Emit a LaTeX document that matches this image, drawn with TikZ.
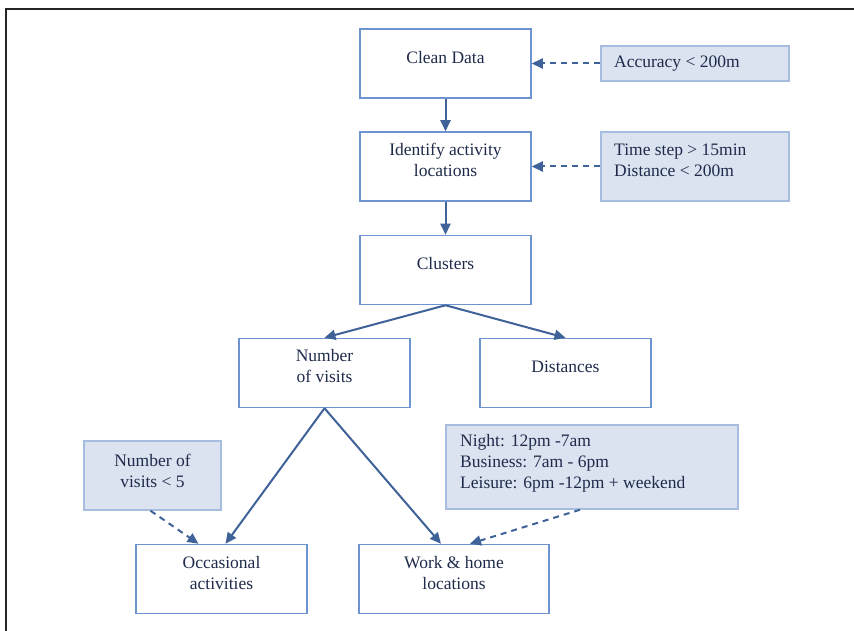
\documentclass[tikz,border=0pt]{standalone}
\usepackage{fontspec}
\setmainfont{Liberation Serif}
\usetikzlibrary{arrows.meta}
\definecolor{boxline}{HTML}{6E94CF}
\definecolor{sidefill}{HTML}{DBE3F0}
\definecolor{sideline}{HTML}{A6BDE0}
\definecolor{arrowc}{HTML}{3F6299}
\definecolor{txtc}{HTML}{1F2B4B}
\tikzset{
  mainbox/.style={draw=boxline, line width=1.5pt, fill=white, minimum width=171pt, minimum height=69pt, inner sep=0pt},
  sidebox/.style={draw=sideline, line width=1.5pt, fill=sidefill, inner sep=0pt},
  txt/.style={text=txtc, font=\fontsize{17.5}{21}\selectfont, align=center, inner sep=0pt},
  ltxt/.style={text=txtc, font=\fontsize{17.5}{21}\selectfont, align=left, inner sep=0pt, anchor=west},
  flow/.style={draw=arrowc, line width=2pt, -{Triangle[length=11pt,width=10pt]}},
  dflow/.style={draw=arrowc, line width=2pt, dash pattern=on 6pt off 5pt, -{Triangle[length=11pt,width=10pt]}}
}
\begin{document}
\begin{tikzpicture}[x=1pt,y=-1pt]
\useasboundingbox (0,0) rectangle (854,631);
\fill[white] (0,0) rectangle (854,631);
% outer frame
\draw[line width=2pt, black!85] (6,631) -- (6,9) -- (854,9);
% main boxes
\node[mainbox] (clean) at (445.5,63.5) {};
\node[txt] (cleant) at (445.5,58) {Clean Data};
\node[mainbox] (ident) at (445.5,166.5) {};
\node[txt] (identt) at (445.5,160) {Identify activity\\locations};
\node[mainbox] (clus) at (445.5,270) {};
\node[txt] (clust) at (445.5,264) {Clusters};
\node[mainbox] (nov) at (324.5,373) {};
\node[txt] (novt) at (324.5,366.5) {Number\\of visits};
\node[mainbox] (dist) at (565.5,373) {};
\node[txt] (distt) at (565.5,367) {Distances};
\node[mainbox] (occ) at (221.5,579) {};
\node[txt] (occt) at (221.5,573.5) {Occasional\\activities};
\node[mainbox, minimum width=190pt] (work) at (454,579) {};
\node[txt] (workt) at (454,573.5) {Work \& home\\locations};
% side boxes
\node[sidebox, minimum width=188pt, minimum height=35pt] (acc) at (695,63.5) {};
\node[ltxt] (acct) at (614,64) {Accuracy < 200m};
\node[sidebox, minimum width=188pt, minimum height=69pt] (tsd) at (695,166.5) {};
\node[ltxt] (tsdt) at (614,160) {Time step > 15min\\Distance < 200m};
\node[sidebox, minimum width=137pt, minimum height=69pt] (nv5) at (152.5,475.5) {};
\node[txt] (nv5t) at (152.5,471) {Number of\\visits < 5};
\node[sidebox, minimum width=292pt, minimum height=84pt] (night) at (592,467) {};
\node[ltxt] (nightt) at (460,463) {Night: 12pm -7am\\Business: 7am - 6pm\\Leisure: 6pm -12pm + weekend};
% connectors
\draw[flow] (clean.south) -- (ident.north);
\draw[flow] (ident.south) -- (clus.north);
\draw[flow] (clus.south) -- (nov.north);
\draw[flow] (clus.south) -- (dist.north);
\draw[flow] (nov.south) -- ([xshift=4pt]occ.north);
\draw[flow] (nov.south) -- ([xshift=-13pt]work.north);
\draw[dflow] (acc.west) -- (clean.east);
\draw[dflow] (tsd.west) -- (ident.east);
\draw[dflow] ([xshift=-2pt]nv5.south) -- ([xshift=-23pt]occ.north);
\draw[dflow] ([xshift=-12pt]night.south) -- ([xshift=16pt]work.north);
\end{tikzpicture}
\end{document}
